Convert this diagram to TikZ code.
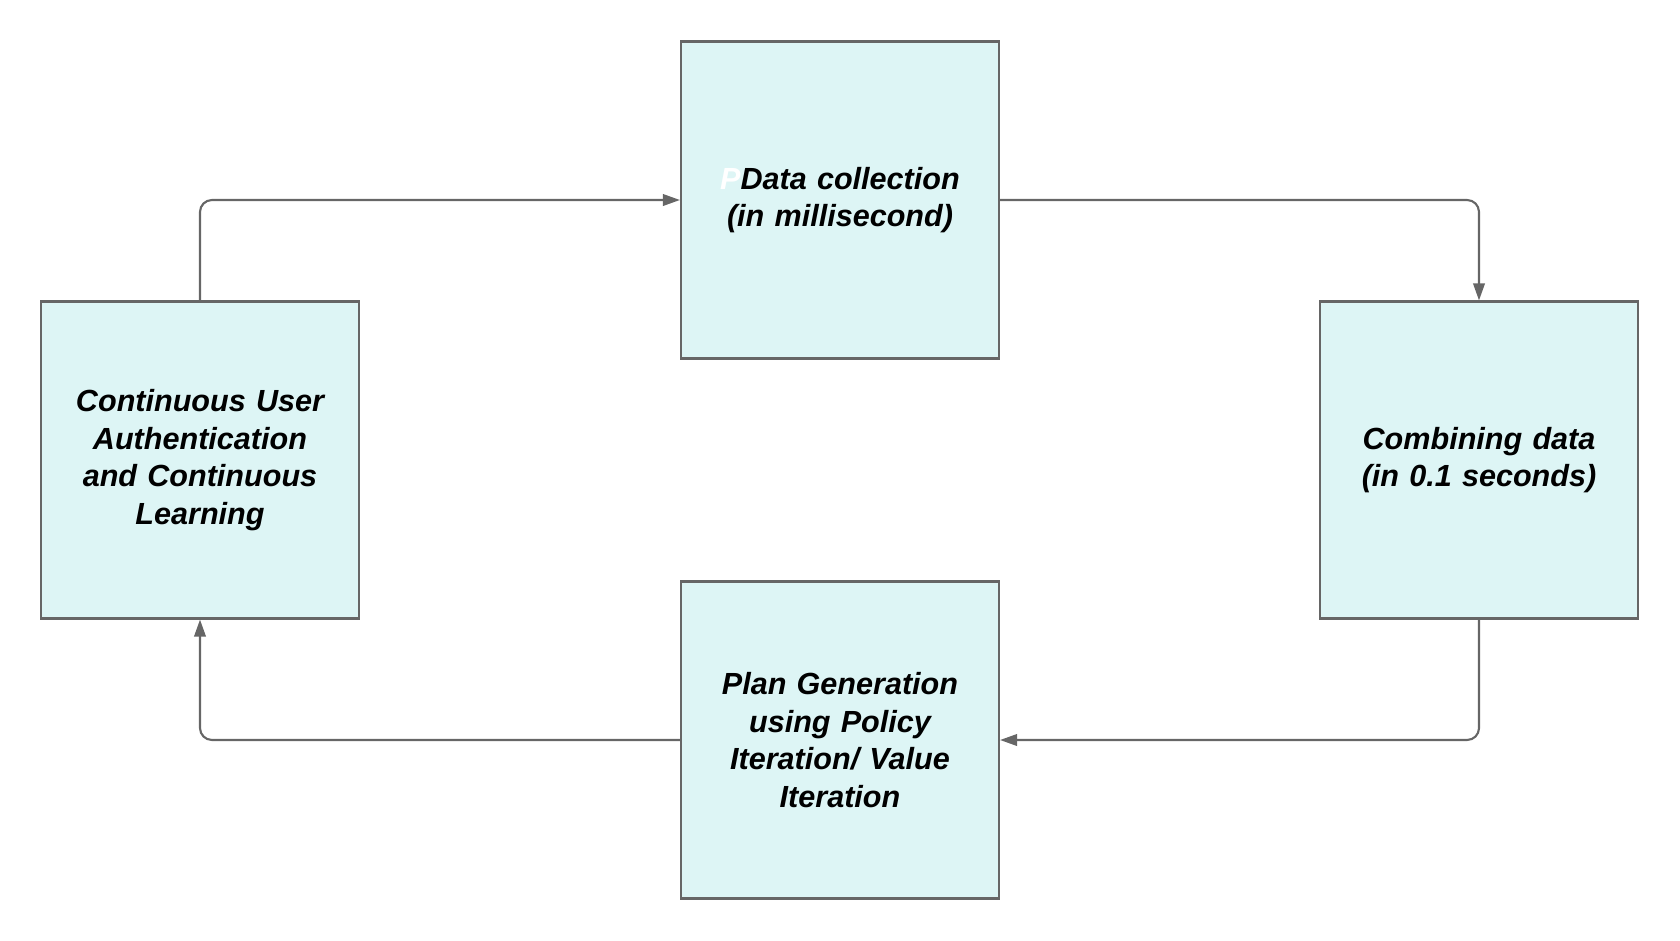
\documentclass[tikz,border=0pt]{standalone}
\usepackage{fontspec}
\setmainfont{Liberation Sans}
\usetikzlibrary{arrows.meta}
\definecolor{boxfill}{HTML}{DDF5F5}
\definecolor{edgegray}{HTML}{666666}
\begin{document}
\begin{tikzpicture}[
  stagebox/.style={draw=edgegray, line width=0.6pt, fill=boxfill, rectangle,
    minimum width=3.18cm, minimum height=3.17cm, text width=2.9cm, align=center,
    font=\fontsize{8.7}{10.7}\selectfont\bfseries\itshape},
  flow/.style={-{Triangle[length=1.7mm, width=1.15mm, fill=edgegray]}, draw=edgegray,
    line width=0.6pt, rounded corners=3.4pt}
]
\useasboundingbox (0,0) rectangle (16.8,9.4);

\node[stagebox] (collect) at (8.4,7.4) {{\color{white}P}Data collection\\(in millisecond)};

\node[stagebox] (combine) at (14.79,4.8) {Combining data\\(in 0.1 seconds)};

\node[stagebox] (plan) at (8.4,2.0) {Plan Generation\\using Policy\\Iteration/ Value\\Iteration};

\node[stagebox] (auth) at (2.0,4.8) {Continuous User\\Authentication\\and Continuous\\Learning};

\draw[flow] (auth.north) |- (collect.west);
\draw[flow] (collect.east) -| (combine.north);
\draw[flow] (combine.south) |- (plan.east);
\draw[flow] (plan.west) -| (auth.south);
\end{tikzpicture}
\end{document}
